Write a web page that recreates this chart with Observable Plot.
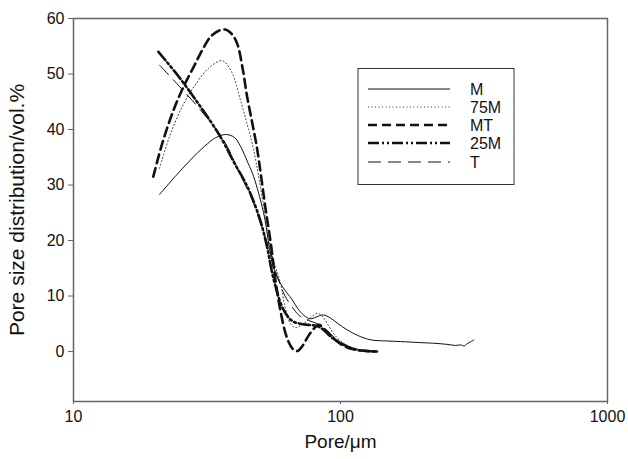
<!DOCTYPE html>
<html>
<head>
<meta charset="utf-8">
<script src="https://cdn.jsdelivr.net/npm/d3@7"></script>
<script src="https://cdn.jsdelivr.net/npm/@observablehq/plot@0.6"></script>
<style>
  html, body { margin: 0; padding: 0; background: white; }
  #chart { width: 628px; height: 459px; }
</style>
</head>
<body>
<div id="chart"></div>
<script>
// Tick labels
const xTicks = [10, 100, 1000];
const yTicks = [0, 10, 20, 30, 40, 50, 60];
const seriesNames = ["M", "75M", "MT", "25M", "T"];

// Series: pore size (µm) and distribution (vol.%)
const mPore = [21, 24, 27.4, 31, 34, 37.1, 40, 42.2, 45, 47.3, 51.5, 56, 60, 66, 69, 73, 77, 81, 86, 92, 98, 106, 116, 130, 150, 168, 200, 223, 250, 270, 282, 290, 298, 316];
const mVol  = [28.3, 31.5, 34.5, 37, 38.5, 39.1, 38.6, 37, 34, 31.5, 25, 15.3, 12, 9.3, 7.8, 6.5, 5.9, 6.2, 6.6, 6, 5, 3.9, 2.9, 2.1, 1.9, 1.8, 1.6, 1.5, 1.3, 1.1, 1.2, 1.0, 1.4, 2.1];

const m75Pore = [21, 23, 25.9, 29, 32, 36, 39, 42.2, 44.7, 47.3, 51.6, 55, 59.6, 62, 65, 68, 72.8, 77, 81.7, 86, 89, 95, 105, 120, 135];
const m75Vol  = [33, 39, 44.7, 48.5, 51, 52.4, 50.5, 45.3, 41, 36.3, 26.1, 18, 12.3, 8, 5, 4.3, 5.1, 6, 6.9, 6.2, 5.1, 3, 1.2, 0.3, 0];

const mtPore = [19.9, 21.5, 23.7, 26, 28.2, 30.5, 32.6, 35, 37.1, 39, 41, 43, 44.7, 46.8, 48.8, 52.3, 55, 57, 59.5, 63, 66.5, 69, 72, 77, 83, 88, 95, 103, 115, 137];
const mtVol  = [31.5, 37.5, 43.5, 48, 51.3, 54.5, 56.7, 57.8, 58, 57.3, 55.5, 51, 45.9, 41, 36.3, 26, 19, 13, 7.5, 2.5, 0.4, 0.1, 1.0, 3.3, 4.8, 3.8, 2.2, 1.0, 0.3, 0];

const m25Pore = [20.8, 24.8, 30, 35.5, 40, 45, 50, 53, 56.2, 61.2, 66, 70.8, 76, 81.7, 86, 91.8, 103, 115, 125, 137];
const m25Vol  = [54, 49.5, 44, 38.7, 34, 29.5, 23.7, 19, 13, 7.5, 5.5, 5.0, 4.8, 4.6, 4, 2.7, 1.2, 0.3, 0.1, 0];

const tPore = [21, 25, 29.9, 36.5, 42, 47, 51, 54.6, 58, 62, 66, 70, 76, 82, 88, 95, 105, 120, 135];
const tVol  = [51.6, 47.7, 43.5, 38.1, 32, 27, 22, 18, 13.5, 10, 8, 6.5, 5.6, 5, 4, 2.5, 1, 0.2, 0];

const seriesData = [
  {name: "M",   pore: mPore,   vol: mVol},
  {name: "75M", pore: m75Pore, vol: m75Vol},
  {name: "MT",  pore: mtPore,  vol: mtVol},
  {name: "25M", pore: m25Pore, vol: m25Vol},
  {name: "T",   pore: tPore,   vol: tVol}
];

const styles = {
  "M":   {stroke: "#111", strokeWidth: 1,   strokeDasharray: null},
  "75M": {stroke: "#333", strokeWidth: 1,   strokeDasharray: "1,2.5"},
  "MT":  {stroke: "#111", strokeWidth: 2.6, strokeDasharray: "9,5"},
  "25M": {stroke: "#111", strokeWidth: 2.6, strokeDasharray: "11,3,2,3,2,3"},
  "T":   {stroke: "#111", strokeWidth: 1,   strokeDasharray: "13,7"}
};

const rows = s => s.pore.map((p, i) => ({pore: p, vol: s.vol[i]}));

const lineMarks = seriesData.map(s => {
  const st = styles[s.name];
  const opts = {x: "pore", y: "vol", curve: "catmull-rom", stroke: st.stroke, strokeWidth: st.strokeWidth};
  if (st.strokeDasharray) opts.strokeDasharray = st.strokeDasharray;
  return Plot.line(rows(s), opts);
});

const font = "'Liberation Sans', Arial, Helvetica, sans-serif";

const plot = Plot.plot({
  width: 628,
  height: 459,
  marginLeft: 73,
  marginRight: 21,
  marginTop: 18,
  marginBottom: 58,
  style: {fontFamily: font, fontSize: "16px", background: "white", color: "black"},
  x: {type: "log", domain: [10, 1000]},
  y: {domain: [-9, 60]},
  marks: [
    ...lineMarks,
    Plot.frame({stroke: "#666", strokeWidth: 1.5}),
    Plot.axisY({ticks: yTicks, tickSize: 5, tickPadding: 4, label: null, stroke: "#666", fill: "#111", fontSize: 16}),
    Plot.axisX({ticks: xTicks, tickSize: 3, tickPadding: 6, tickFormat: d => String(d), label: null, stroke: "#666", fill: "#111", fontSize: 16}),
    Plot.text(["Pore/μm"], {frameAnchor: "bottom", dy: 40, fontSize: 19, fill: "#111", textAnchor: "middle", lineAnchor: "middle"}),
    Plot.text(["Pore size distribution/vol.%"], {frameAnchor: "left", dx: -56, rotate: -90, fontSize: 21, fill: "#111", textAnchor: "middle", lineAnchor: "middle"})
  ]
});

document.getElementById("chart").appendChild(plot);

// Legend box inside the plot
const svg = d3.select(plot);
const lg = svg.append("g").attr("font-family", font).attr("font-size", 16).attr("text-anchor", "start");
lg.append("rect").attr("x", 358).attr("y", 68.5).attr("width", 156).attr("height", 116)
  .attr("fill", "white").attr("stroke", "#333").attr("stroke-width", 1);
const rowY = [89, 107, 125, 143, 162];
seriesNames.forEach((name, i) => {
  const st = styles[name];
  const ln = lg.append("line").attr("x1", 368).attr("x2", 450).attr("y1", rowY[i]).attr("y2", rowY[i])
    .attr("stroke", st.stroke).attr("stroke-width", st.strokeWidth);
  if (st.strokeDasharray) ln.attr("stroke-dasharray", st.strokeDasharray);
  lg.append("text").attr("x", 470).attr("y", rowY[i] + 6).attr("fill", "#111").attr("text-anchor", "start").text(name);
});
</script>
</body>
</html>
